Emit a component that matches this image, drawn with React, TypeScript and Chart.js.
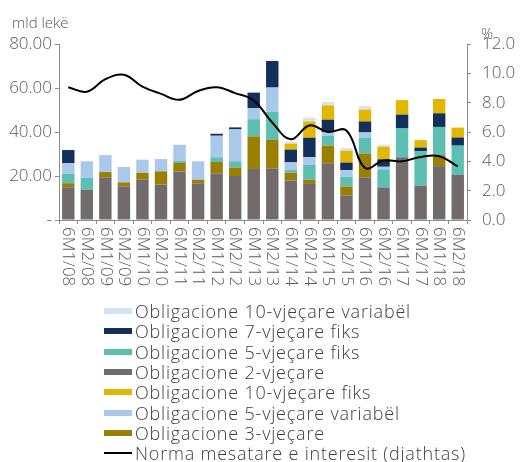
import React, { useEffect, useRef } from "react";
import { Chart, registerables } from "chart.js";
Chart.register(...registerables);

const categories = ["6M1/08","6M2/08","6M1/09","6M2/09","6M1/10","6M2/10","6M1/11","6M2/11","6M1/12","6M2/12","6M1/13","6M2/13","6M1/14","6M2/14","6M1/15","6M2/15","6M1/16","6M2/16","6M1/17","6M2/17","6M1/18","6M2/18"];

const bond2y = [14.9,13.8,19.4,15.3,18.3,16.1,22.1,16.7,21.2,20.0,23.2,23.5,18.0,16.4,25.8,11.2,19.4,14.8,28.5,15.6,24.5,20.5];
const bond3y = [1.8,0,2.4,1.8,3.1,6.0,3.8,1.6,5.2,3.8,14.8,13.0,3.5,1.9,8.0,4.0,10.8,0,0,0,5.0,0];
const bond5yFix = [4.3,5.4,0,0,0,0,0.9,0,2.1,2.9,7.8,12.7,1.2,6.7,4.5,4.5,7.2,8.2,13.1,15.7,12.8,13.3];
const bond5yVar = [4.8,7.5,7.7,7.0,6.0,5.6,7.4,8.4,9.8,14.5,5.1,11.0,3.5,3.6,1.7,3.0,2.4,1.2,0,0,0,0];
const bond7yFix = [6.0,0,0,0,0,0,0,0,0.9,0.9,7.0,12.1,5.8,8.8,5.6,3.4,5.0,3.4,6.3,1.6,6.2,3.7];
const bond10yFix = [0,0,0,0,0,0,0,0,0,0,0,0,2.7,7.4,6.5,5.4,5.4,5.7,6.6,3.4,6.5,4.5];
const bond10yVar = [0,0,0,0,0,0,0,0,0,0,0,0,0.8,1.7,1.5,1.2,1.6,0.9,0,0,0,0];
const avgRate = [9.05,8.75,9.6,9.9,9.1,8.6,8.2,8.8,9.05,8.65,8.15,6.65,5.5,6.45,6.0,6.1,3.55,4.05,4.0,4.3,4.35,3.65];

const leftTicks = [0, 20, 40, 60, 80];
const rightTicks = [0, 2, 4, 6, 8, 10, 12];

const names = {
  b10v: "Obligacione 10-vjeçare variabël",
  b7f: "Obligacione 7-vjeçare fiks",
  b5f: "Obligacione 5-vjeçare fiks",
  b2: "Obligacione 2-vjeçare",
  b10f: "Obligacione 10-vjeçare fiks",
  b5v: "Obligacione 5-vjeçare variabël",
  b3: "Obligacione 3-vjeçare",
  rate: "Norma mesatare e interesit (djathtas)",
};

const colors = {
  b10v: "#d5e2f3",
  b7f: "#13305a",
  b5f: "#5cbfb1",
  b2: "#716c6b",
  b10f: "#e1b700",
  b5v: "#aac9ea",
  b3: "#9a7f00",
  rate: "#000000",
};

const legendOrder = ["b10v", "b7f", "b5f", "b2", "b10f", "b5v", "b3", "rate"];

const FONT = "'Open Sans', Lato, sans-serif";

const xLabelPlugin = {
  id: "xLabelsDown",
  afterDraw(chart: any) {
    const ctx = chart.ctx;
    const xs = chart.scales.x;
    ctx.save();
    ctx.font = "300 17px " + FONT;
    ctx.fillStyle = "#595959";
    ctx.textAlign = "left";
    ctx.textBaseline = "middle";
    categories.forEach((c, i) => {
      const x = xs.getPixelForTick(i);
      ctx.save();
      ctx.translate(x, xs.top + 7);
      ctx.rotate(Math.PI / 2);
      ctx.fillText(c, 0, 0);
      ctx.restore();
    });
    ctx.restore();
  },
};

export default function App() {
  const ref = useRef<HTMLCanvasElement | null>(null);
  useEffect(() => {
    if (!ref.current) return;
    const bar = (key: string, data: number[]) => ({
      type: "bar" as const,
      label: (names as any)[key],
      data,
      backgroundColor: (colors as any)[key],
      borderWidth: 0,
      yAxisID: "y",
      stack: "s",
      order: 1,
      categoryPercentage: 1,
      barPercentage: 0.67,
    });
    const chart = new Chart(ref.current, {
      type: "bar",
      data: {
        labels: categories,
        datasets: [
          bar("b2", bond2y),
          bar("b3", bond3y),
          bar("b5f", bond5yFix),
          bar("b5v", bond5yVar),
          bar("b7f", bond7yFix),
          bar("b10f", bond10yFix),
          bar("b10v", bond10yVar),
          {
            type: "line",
            label: names.rate,
            data: avgRate,
            borderColor: colors.rate,
            borderWidth: 2,
            pointRadius: 0,
            tension: 0.4,
            fill: false,
            yAxisID: "y1",
            order: 0,
          } as any,
        ],
      },
      options: {
        responsive: false,
        animation: false,
        layout: { padding: { top: 44, left: 0, right: 0, bottom: 0 } },
        plugins: { legend: { display: false }, tooltip: { enabled: false } },
        scales: {
          x: {
            stacked: true,
            offset: true,
            ticks: { display: false },
            grid: { display: true, drawOnChartArea: false, drawTicks: true, tickLength: 4, color: "#8c8c8c", offset: true },
            border: { display: true, color: "#8c8c8c" },
            afterFit: (s: any) => { s.height = 80; },
          },
          y: {
            stacked: true,
            min: 0,
            max: 80,
            afterBuildTicks: (s: any) => { s.ticks = leftTicks.map((v) => ({ value: v })); },
            ticks: {
              callback: (v: any) => (Number(v) === 0 ? "-" : Number(v).toFixed(2)),
              color: "#595959",
              font: { family: FONT, size: 17, weight: "300" },
              padding: 3,
            },
            grid: { display: true, drawOnChartArea: false, drawTicks: true, tickLength: 4, color: "#8c8c8c" },
            border: { display: true, dash: [4, 3], color: "#8c8c8c" },
            afterFit: (s: any) => { s.width = 59; },
          },
          y1: {
            position: "right",
            min: 0,
            max: 12,
            afterBuildTicks: (s: any) => { s.ticks = rightTicks.map((v) => ({ value: v })); },
            ticks: {
              callback: (v: any) => Number(v).toFixed(1),
              color: "#595959",
              font: { family: FONT, size: 17, weight: "300" },
              padding: 11,
            },
            grid: { display: true, drawOnChartArea: false, drawTicks: true, tickLength: 4, color: "#8c8c8c" },
            border: { display: true, dash: [4, 3], color: "#8c8c8c" },
            afterFit: (s: any) => { s.width = 56; },
          },
        },
      },
      plugins: [xLabelPlugin],
    });
    return () => chart.destroy();
  }, []);

  return (
    <div style={{ position: "absolute", left: 0, top: 0, width: 523, height: 462, background: "#fff", fontFamily: FONT, fontWeight: 300, overflow: "hidden" }}>
      <canvas ref={ref} width={523} height={300} style={{ position: "absolute", left: 0, top: 0, width: 523, height: 300 }} />
      <div style={{ position: "absolute", left: 12, top: 12, fontSize: 15, lineHeight: "20px", color: "#595959" }}>mld lekë</div>
      <div style={{ position: "absolute", left: 481, top: 23, fontSize: 15, lineHeight: "20px", color: "#595959" }}>%</div>
      <div style={{ position: "absolute", left: 104, top: 301 }}>
        {legendOrder.map((k) => (
          <div key={k} style={{ display: "flex", alignItems: "center", height: 20.3, whiteSpace: "nowrap" }}>
            <span style={{ display: "inline-block", width: 28, height: k === "rate" ? 2 : 6, background: (colors as any)[k], marginRight: 3 }} />
            <span style={{ fontSize: 18, letterSpacing: 0.8, color: "#404040", lineHeight: "20px" }}>{(names as any)[k]}</span>
          </div>
        ))}
      </div>
    </div>
  );
}
